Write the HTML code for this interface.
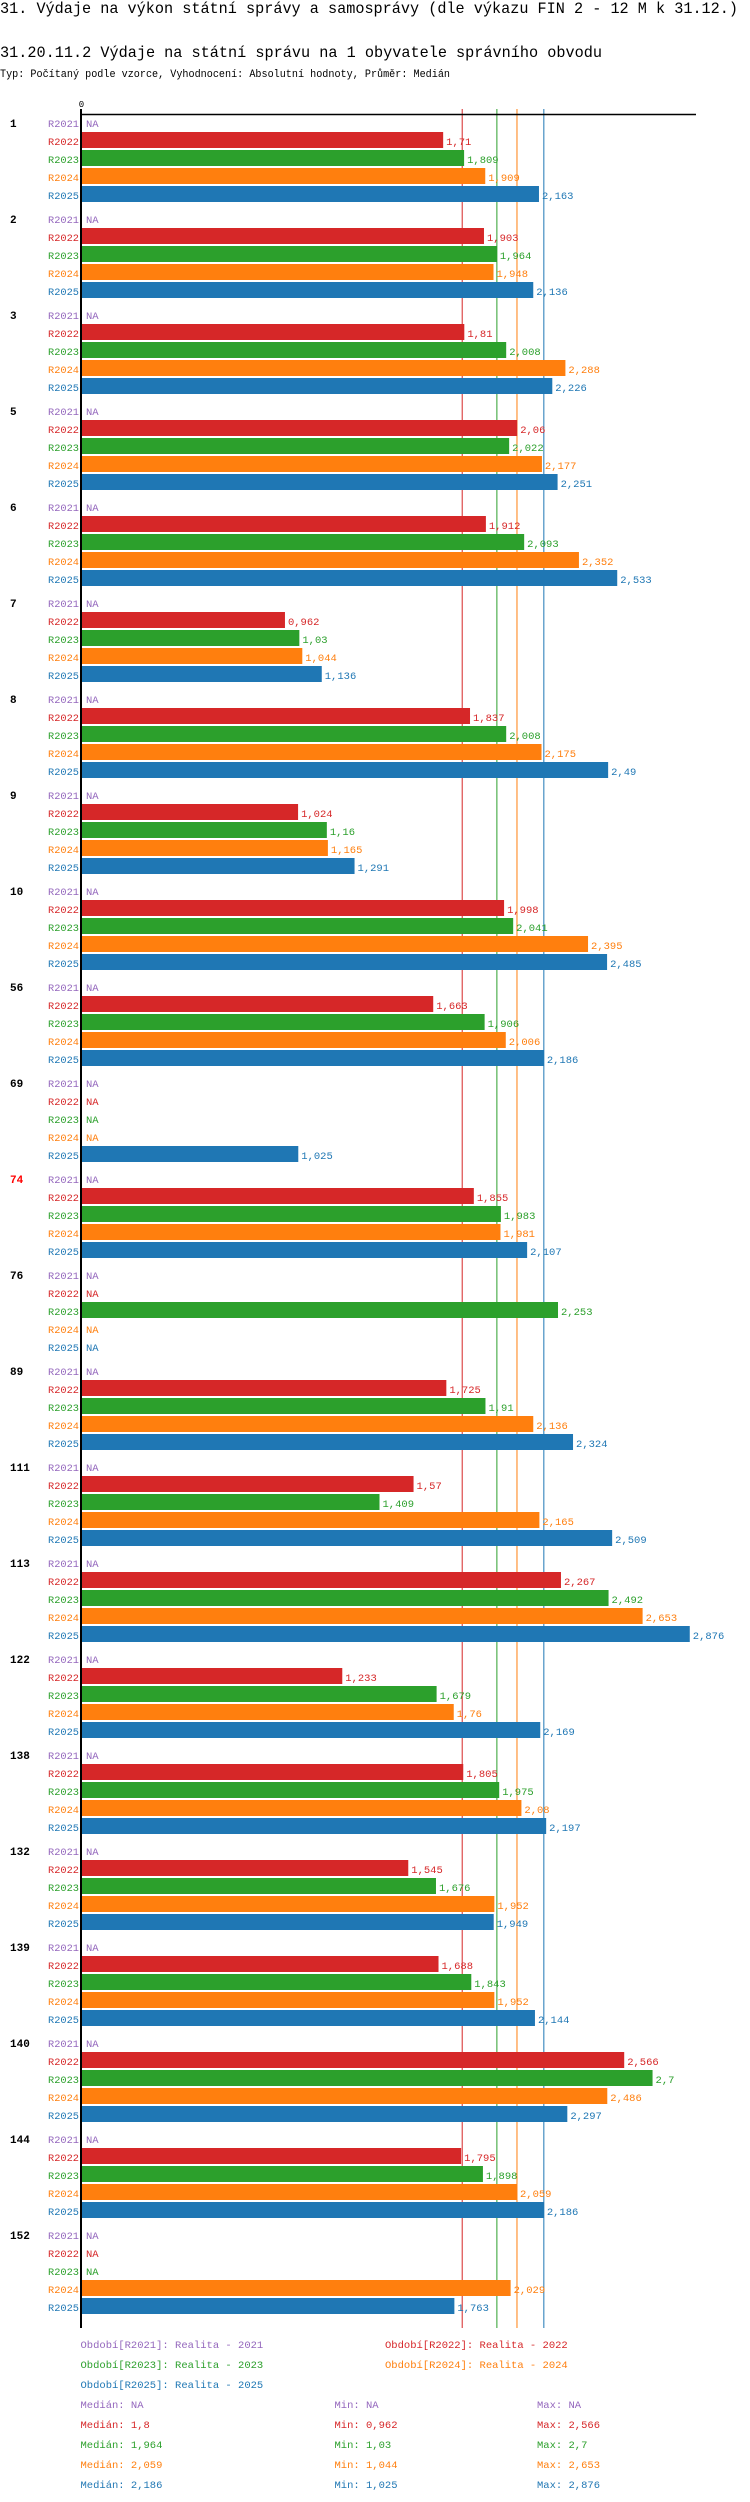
<!DOCTYPE html>
<html><head><meta charset="utf-8">
<style>
html,body{margin:0;padding:0;background:#fff;}
svg{display:block;font-family:"Liberation Mono","DejaVu Sans Mono",monospace;}
</style></head>
<body>
<svg id="chart" width="750" height="2502" viewBox="0 0 750 2502" xmlns="http://www.w3.org/2000/svg">
<text x="0" y="13" font-size="16" textLength="738" lengthAdjust="spacingAndGlyphs">31. Výdaje na výkon státní správy a samosprávy (dle výkazu FIN 2 - 12 M k 31.12.)</text>
<text x="0" y="57" font-size="16" textLength="602" lengthAdjust="spacingAndGlyphs">31.20.11.2 Výdaje na státní správu na 1 obyvatele správního obvodu</text>
<text x="0" y="77" font-size="11" textLength="450" lengthAdjust="spacingAndGlyphs">Typ: Počítaný podle vzorce, Vyhodnocení: Absolutní hodnoty, Průměr: Medián</text>
<g id="plot"></g>
</svg>
<script>
const groups = ["1","2","3","5","6","7","8","9","10","56","69","74","76","89","111","113","122","138","132","139","140","144","152"];
const series = ["R2021","R2022","R2023","R2024","R2025"];
const v2021 = [null,null,null,null,null,null,null,null,null,null,null,null,null,null,null,null,null,null,null,null,null,null,null];
const v2022 = [1.71,1.903,1.81,2.06,1.912,0.962,1.837,1.024,1.998,1.663,null,1.855,null,1.725,1.57,2.267,1.233,1.805,1.545,1.688,2.566,1.795,null];
const v2023 = [1.809,1.964,2.008,2.022,2.093,1.03,2.008,1.16,2.041,1.906,null,1.983,2.253,1.91,1.409,2.492,1.679,1.975,1.676,1.843,2.7,1.898,null];
const v2024 = [1.909,1.948,2.288,2.177,2.352,1.044,2.175,1.165,2.395,2.006,null,1.981,null,2.136,2.165,2.653,1.76,2.08,1.952,1.952,2.486,2.059,2.029];
const v2025 = [2.163,2.136,2.226,2.251,2.533,1.136,2.49,1.291,2.485,2.186,1.025,2.107,null,2.324,2.509,2.876,2.169,2.197,1.949,2.144,2.297,2.186,1.763];
const medians = [null,1.8,1.964,2.059,2.186];
const mins = [null,0.962,1.03,1.044,1.025];
const maxs = [null,2.566,2.7,2.653,2.876];
const highlightGroups = ["74"];

const colors = ["#9467bd","#d62728","#2ca02c","#ff7f0e","#1f77b4"];
const allVals = [v2021,v2022,v2023,v2024,v2025];
const NS = "http://www.w3.org/2000/svg";
const plot = document.getElementById("plot");
const X0 = 81.5, UNIT = 211.5;
const xs = v => X0 + v * UNIT;
const Y0 = 123, GP = 96, RP = 18;
const rowY = (g, s) => Y0 + g * GP + s * RP;
const fmt = v => v === null ? "NA" : String(v).replace(".", ",");
function mk(tag, attrs, txt) {
  const e = document.createElementNS(NS, tag);
  for (const k in attrs) e.setAttribute(k, attrs[k]);
  if (txt !== undefined) e.textContent = txt;
  plot.appendChild(e);
  return e;
}
const bottom = rowY(groups.length - 1, 4) + 21;
// median lines
medians.forEach((m, i) => {
  if (m === null) return;
  const l = mk("line", {x1: xs(m), x2: xs(m), y1: 109, y2: bottom, stroke: colors[i], "stroke-width": 1});
  
  
});
// axis
const ax = mk("line", {x1: X0 - 1, x2: 696, y1: 114.5, y2: 114.5, stroke: "#000", "stroke-width": 1.5});


const ay = mk("line", {x1: X0 - 0.5, x2: X0 - 0.5, y1: 109, y2: bottom, stroke: "#000", "stroke-width": 2});


const z = mk("text", {x: X0, y: 107, "font-size": 9, "text-anchor": "middle"}, "0");



groups.forEach((g, gi) => {
  const gl = mk("text", {x: 10, y: rowY(gi, 0) + 4, "font-size": 11, "font-weight": "bold", fill: highlightGroups.includes(g) ? "#ff0000" : "#000"}, g);
  
  
  series.forEach((s, si) => {
    const cy = rowY(gi, si);
    const v = allVals[si][gi];
    const sl = mk("text", {x: 79, y: cy + 4, "font-size": 10.5, "text-anchor": "end", fill: colors[si], textLength: 31, lengthAdjust: "spacingAndGlyphs"}, s);
    
    
    let tx = 86;
    if (v !== null) {
      const b = mk("rect", {x: X0 + 0.5, y: cy - 9, width: xs(v) - X0 - 0.5, height: 16, fill: colors[si]});
      
      
      tx = xs(v) + 3;
    }
    const vl = mk("text", {x: tx, y: cy + 4, "font-size": 10.5, fill: colors[si]}, fmt(v));
    
    
  });
});

// legend
const legendPos = [[80.5,2348],[385,2348],[80.5,2368],[385,2368],[80.5,2388]];
series.forEach((s, i) => {
  const t = mk("text", {x: legendPos[i][0], y: legendPos[i][1], "font-size": 10.5, fill: colors[i]}, "Období[" + s + "]: Realita - " + s.slice(1));
  
  
});
series.forEach((s, i) => {
  const y = 2408 + i * 20;
  const a = mk("text", {x: 80.5, y: y, "font-size": 10.5, fill: colors[i]}, "Medián: " + fmt(medians[i]));
  
  
  const b = mk("text", {x: 334.5, y: y, "font-size": 10.5, fill: colors[i]}, "Min: " + fmt(mins[i]));
  
  
  const c = mk("text", {x: 537, y: y, "font-size": 10.5, fill: colors[i]}, "Max: " + fmt(maxs[i]));
  
  
});
</script>
</body></html>
